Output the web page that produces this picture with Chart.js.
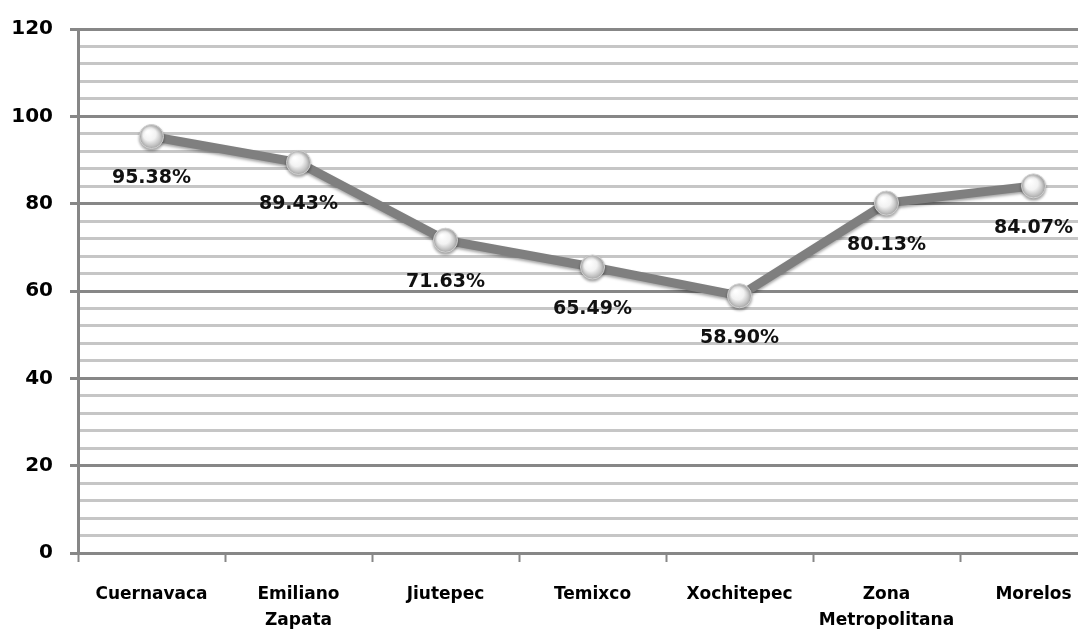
<!DOCTYPE html>
<html>
<head>
<meta charset="utf-8">
<script src="https://cdn.jsdelivr.net/npm/chart.js@4"></script>
<style>
  html, body { margin: 0; padding: 0; background: #fff; overflow: hidden; }
</style>
</head>
<body>
<canvas id="lineGraph" width="1120" height="634"></canvas>
<script>
var categories = ['Cuernavaca', ['Emiliano', 'Zapata'], 'Jiutepec', 'Temixco', 'Xochitepec', ['Zona', 'Metropolitana'], 'Morelos'];
var values = [95.38, 89.43, 71.63, 65.49, 58.90, 80.13, 84.07];
var valueLabels = ['95.38%', '89.43%', '71.63%', '65.49%', '58.90%', '80.13%', '84.07%'];

var majorGray = '#878787';
var minorGray = '#c6c6c6';

// sphere-like fill for each point
function pointFill(ctx) {
    var chart = ctx.chart;
    if (!chart.scales.x || !chart.scales.y || ctx.raw === undefined) return '#eeeeee';
    var x = chart.scales.x.getPixelForValue(ctx.dataIndex);
    var y = chart.scales.y.getPixelForValue(ctx.raw);
    if (!isFinite(x) || !isFinite(y)) return '#eeeeee';
    var g = chart.ctx.createRadialGradient(x - 4, y - 5, 1, x, y, 12);
    g.addColorStop(0, '#ffffff');
    g.addColorStop(0.5, '#f2f2f2');
    g.addColorStop(1, '#aaaaaa');
    return g;
}

// value labels under each point
var valueLabelPlugin = {
    id: 'valueLabels',
    afterDatasetsDraw: function(chart) {
        var meta = chart.getDatasetMeta(0);
        var c = chart.ctx;
        c.save();
        c.font = 'bold 19px "DejaVu Sans"';
        c.fillStyle = '#111';
        c.textAlign = 'center';
        c.textBaseline = 'middle';
        meta.data.forEach(function(pt, i) {
            c.fillText(valueLabels[i], pt.x, pt.y + 42);
        });
        c.restore();
    }
};

// soft shadow under the line
var shadowPlugin = {
    id: 'lineShadow',
    beforeDatasetDraw: function(chart) {
        chart.ctx.save();
        chart.ctx.shadowColor = 'rgba(0,0,0,0.35)';
        chart.ctx.shadowBlur = 3;
        chart.ctx.shadowOffsetY = 2;
    },
    afterDatasetDraw: function(chart) {
        chart.ctx.restore();
    }
};

var lineConfig =
{
    type: 'line',
    data: {
        labels: categories,
        datasets: [{
            data: values,
            borderColor: '#7f7f7f',
            borderWidth: 9,
            pointRadius: 12,
            pointBackgroundColor: pointFill,
            pointBorderColor: '#d0d0d0',
            pointBorderWidth: 1,
            tension: 0
        }]
    },
    options: {
        responsive: false,
        animation: false,
        devicePixelRatio: 1,
        layout: {
            padding: { top: 23, right: 0, bottom: 0, left: 0 }
        },
        plugins: {
            legend: { display: false },
            tooltip: { enabled: false }
        },
        scales: {
            x: {
                offset: true,
                border: { color: majorGray, width: 3 },
                grid: {
                    drawOnChartArea: false,
                    offset: true,
                    tickLength: 9,
                    tickColor: majorGray,
                    tickWidth: 2
                },
                ticks: {
                    color: '#000',
                    font: { family: 'DejaVu Sans', weight: 'bold', size: 17, lineHeight: 1.5 },
                    padding: 20,
                    maxRotation: 0,
                    autoSkip: false
                },
                afterFit: function(scale) { scale.height = 81; }
            },
            y: {
                min: 0,
                max: 120,
                border: { color: majorGray, width: 3 },
                grid: {
                    lineWidth: 3,
                    tickLength: 8,
                    color: function(ctx) {
                        return ctx.tick && ctx.tick.value % 20 === 0 ? majorGray : minorGray;
                    },
                    tickColor: function(ctx) {
                        return ctx.tick && ctx.tick.value % 20 === 0 ? majorGray : 'rgba(0,0,0,0)';
                    }
                },
                ticks: {
                    stepSize: 4,
                    maxTicksLimit: 100,
                    autoSkip: false,
                    color: '#000',
                    padding: 17,
                    font: { family: 'DejaVu Sans', weight: 'bold', size: 20 },
                    callback: function(value) {
                        return value % 20 === 0 ? value : '';
                    }
                },
                afterFit: function(scale) { scale.width = 78; }
            }
        }
    },
    plugins: [shadowPlugin, valueLabelPlugin]
};

const lineCtx = document.getElementById('lineGraph');
const lineChart = new Chart(lineCtx, lineConfig);
</script>
</body>
</html>
